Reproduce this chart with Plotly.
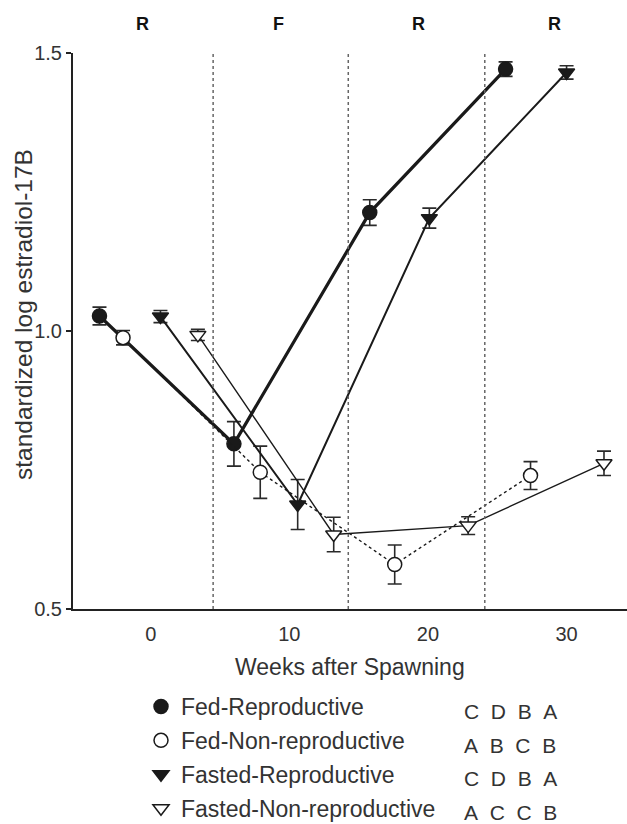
import plotly.graph_objects as go

# ---- data ----
series_names = ["Fed-Reproductive", "Fed-Non-reproductive",
                "Fasted-Reproductive", "Fasted-Non-reproductive"]
weeks_fr = [-3.7, 6.0, 15.8, 25.6]
vals_fr = [1.027, 0.797, 1.213, 1.471]
err_fr = [0.016, 0.040, 0.023, 0.013]

weeks_fnr = [-2.0, 7.9, 17.6, 27.4]
vals_fnr = [0.988, 0.746, 0.580, 0.740]
err_fnr = [0.013, 0.047, 0.035, 0.025]

weeks_far = [0.7, 10.6, 20.1, 30.0]
vals_far = [1.026, 0.688, 1.203, 1.465]
err_far = [0.011, 0.045, 0.018, 0.012]

weeks_fanr = [3.4, 13.2, 22.9, 32.7]
vals_fanr = [0.993, 0.634, 0.650, 0.762]
err_fanr = [0.010, 0.031, 0.016, 0.022]

letters = [["C", "D", "B", "A"], ["A", "B", "C", "B"],
           ["C", "D", "B", "A"], ["A", "C", "C", "B"]]

period_labels = ["R", "F", "R", "R"]
period_centers = [-0.6, 9.2, 19.3, 29.1]
period_bounds = [4.5, 14.25, 24.1]

x_ticks = [0, 10, 20, 30]
y_ticks = [0.5, 1.0, 1.5]
y_ticktext = ["0.5", "1.0", "1.5"]

# ---- layout geometry (pixels) ----
W, H = 627, 824
L, R, T, B = 73, 0, 53, 215
PW, PH = W - L - R, H - T - B


def px_x(px):
    return (px - L) / PW


def px_y(py):
    return (H - B - py) / PH


FONT = "Liberation Sans, Arial, sans-serif"
TXT = "#333333"
INK = "#1a1a1a"

fig = go.Figure()

styles = [
    dict(x=weeks_fr, y=vals_fr, e=err_fr, sym="circle", fill=INK, lw=3.2, dash="solid"),
    dict(x=weeks_fnr, y=vals_fnr, e=err_fnr, sym="circle", fill="white", lw=1.4, dash="dot"),
    dict(x=weeks_far, y=vals_far, e=err_far, sym="triangle-down", fill=INK, lw=2.0, dash="solid"),
    dict(x=weeks_fanr, y=vals_fanr, e=err_fanr, sym="triangle-down", fill="white", lw=1.4, dash="solid"),
]

for name, s in zip(series_names, styles):
    fig.add_trace(go.Scatter(
        x=s["x"], y=s["y"], mode="lines+markers", showlegend=False,
        line=dict(color=INK, width=s["lw"], dash=s["dash"]),
        marker=dict(symbol=s["sym"], size=14, color=s["fill"],
                    line=dict(color=INK, width=1.5)),
        error_y=dict(type="data", array=s["e"], visible=True,
                     color="#2a2a2a", thickness=1.6, width=7),
    ))

# legend-only traces (markers only)
for i, (name, s) in enumerate(zip(series_names, styles)):
    fig.add_trace(go.Scatter(
        x=[None], y=[None], mode="markers", name=name, legendgroup=str(i),
        marker=dict(symbol=s["sym"], size=14, color=s["fill"],
                    line=dict(color=INK, width=1.5)),
    ))

shapes = []
for xb in period_bounds:
    shapes.append(dict(type="line", xref="x", yref="y", x0=xb, x1=xb, y0=0.5, y1=1.5,
                       line=dict(color="#666666", width=1.5, dash="dot")))

annotations = []
for lab, xc in zip(period_labels, period_centers):
    annotations.append(dict(x=xc, xref="x", y=px_y(24), yref="paper", text="<b>%s</b>" % lab,
                            showarrow=False, font=dict(family=FONT, size=18, color="#111111"),
                            xanchor="center", yanchor="middle"))

annotations.append(dict(x=0.5, xref="paper", y=px_y(667), yref="paper",
                        text="Weeks after Spawning", showarrow=False,
                        font=dict(family=FONT, size=23, color=TXT),
                        xanchor="center", yanchor="middle"))
annotations.append(dict(x=px_x(23), xref="paper", y=px_y(315), yref="paper",
                        text="standardized log estradiol-17B", showarrow=False, textangle=-90,
                        font=dict(family=FONT, size=24.5, color=TXT),
                        xanchor="center", yanchor="middle"))

row_y = [711, 745, 778, 812]
for ls, ry in zip(letters, row_y):
    annotations.append(dict(x=px_x(462), xref="paper", y=px_y(ry), yref="paper",
                            text="\u00a0\u00a0".join(ls), showarrow=False,
                            font=dict(family=FONT, size=21, color=TXT),
                            xanchor="left", yanchor="middle"))

fig.update_layout(
    width=W, height=H,
    margin=dict(l=L, r=R, t=T, b=B, pad=0, autoexpand=False),
    paper_bgcolor="white", plot_bgcolor="white",
    font=dict(family=FONT, color=TXT),
    shapes=shapes, annotations=annotations,
    legend=dict(x=141 / W, y=1 - 685 / H, xref="container", yref="container",
                xanchor="left", yanchor="top",
                font=dict(family=FONT, size=23, color=TXT),
                tracegroupgap=1, bgcolor="rgba(0,0,0,0)"),
    xaxis=dict(range=[-5.61, 34.36], tickvals=x_ticks, ticks="", showgrid=False,
               zeroline=False, showline=True, linecolor="#222222", linewidth=2,
               tickfont=dict(family=FONT, size=20, color=TXT), ticklabelstandoff=6),
    yaxis=dict(range=[0.5, 1.5], tickvals=y_ticks, ticktext=y_ticktext, ticks="outside",
               ticklen=5, tickwidth=1.5, tickcolor="#222222", showgrid=False,
               zeroline=False, showline=True, linecolor="#222222", linewidth=2,
               tickfont=dict(family=FONT, size=20, color=TXT)),
)

fig.write_html("out.html")
